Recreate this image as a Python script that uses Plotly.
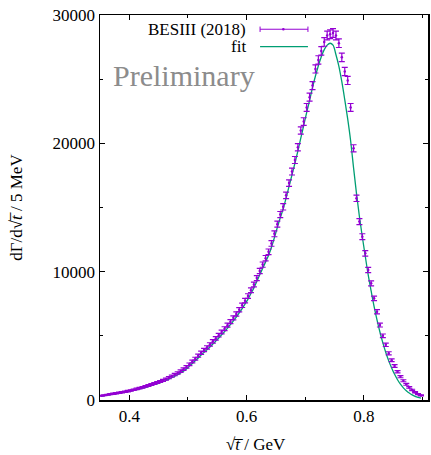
import plotly.graph_objects as go

# bin centres (GeV), 5 MeV bins
sqrt_t = [round(0.3525 + 0.005 * k, 4) for k in range(110)]

# BESIII (2018) data, events / 5 MeV
data_vals = [
    330, 370, 410, 450, 490, 530, 570, 610, 650, 690,
    740, 800, 860, 920, 990, 1060, 1130, 1200, 1280, 1360,
    1440, 1530, 1630, 1740, 1860, 1980, 2110, 2250, 2400, 2580,
    2780, 3000, 3220, 3450, 3680, 3900, 4100, 4330, 4570, 4800,
    5050, 5300, 5560, 5830, 6100, 6400, 6700, 7030, 7380, 7740,
    8100, 8550, 9000, 9500, 10050, 10550, 11050, 11550, 12200, 12950,
    13700, 14450, 15050, 15950, 16900, 17800, 18700, 19700, 21000, 21700,
    22800, 23600, 24500, 25800, 26500, 27200, 27900, 28400, 28500, 28600,
    28400, 27800, 26700, 25600, 24900, 22800, 19610, 15720, 13900, 12730,
    11430, 10130, 9090, 7920, 6880, 5840, 5000, 4300, 3640, 3100,
    2650, 2200, 1820, 1500, 1220, 980, 780, 600, 450, 360,
]

data_err = [
    36, 38, 40, 42, 44, 46, 48, 49, 51, 53,
    54, 57, 59, 61, 63, 65, 67, 69, 72, 74,
    76, 78, 81, 83, 86, 89, 92, 95, 98, 102,
    105, 110, 113, 117, 121, 125, 128, 132, 135, 139,
    142, 146, 149, 153, 156, 160, 164, 168, 172, 176,
    180, 185, 190, 195, 200, 205, 210, 215, 221, 228,
    234, 240, 245, 253, 260, 267, 273, 281, 290, 295,
    302, 307, 313, 321, 326, 330, 334, 337, 338, 338,
    337, 333, 327, 320, 316, 302, 280, 251, 236, 226,
    214, 201, 191, 178, 166, 153, 141, 131, 121, 111,
    103, 94, 85, 77, 70, 63, 56, 49, 42, 38,
]

# fit curve evaluated at the bin centres
fit_vals = [
    300, 340, 380, 420, 455, 495, 530, 570, 605, 645,
    690, 745, 800, 855, 920, 985, 1050, 1120, 1190, 1265,
    1340, 1425, 1520, 1620, 1735, 1850, 1975, 2110, 2250, 2420,
    2640, 2850, 3060, 3280, 3500, 3710, 3910, 4130, 4360, 4590,
    4830, 5080, 5330, 5600, 5870, 6160, 6460, 6780, 7120, 7480,
    7860, 8300, 8740, 9230, 9760, 10260, 10760, 11260, 11900, 12650,
    13450, 14200, 14900, 15750, 16650, 17550, 18450, 19400, 20400, 21400,
    22400, 23350, 24350, 25250, 26050, 26750, 27300, 27650, 27800, 27650,
    26900, 26000, 24800, 23400, 21900, 20200, 18100, 16100, 14300, 12700,
    11200, 9750, 8500, 7300, 6250, 5300, 4450, 3700, 3050, 2500,
    2000, 1580, 1230, 950, 720, 540, 400, 290, 210, 150,
]

x_ticks = [0.4, 0.6, 0.8]
y_ticks = [0, 10000, 20000, 30000]

DATA_C = "#9400D3"
FIT_C = "#009E73"
FONT = "Liberation Serif"

fig = go.Figure()
fig.add_trace(go.Scatter(
    x=sqrt_t, y=fit_vals, mode="lines", line=dict(color=FIT_C, width=1.3, shape="spline"),
    name="fit", showlegend=False, hoverinfo="skip"))
fig.add_trace(go.Scatter(
    x=sqrt_t, y=data_vals, mode="markers",
    marker=dict(color=DATA_C, size=2.5),
    error_y=dict(type="data", array=data_err, color=DATA_C, thickness=1.2, width=3),
    name="BESIII (2018)", showlegend=False))

axis_common = dict(
    showline=True, linecolor="black", linewidth=1.5, mirror="ticks",
    ticks="inside", ticklen=5, tickwidth=1, tickcolor="black",
    showgrid=False, zeroline=False,
    tickfont=dict(family=FONT, size=17, color="black"),
)

fig.update_xaxes(range=[0.35, 0.9095], tickvals=x_ticks, ticktext=["0.4", "0.6", "0.8"],
                 minor=dict(dtick=0.1, tick0=0.4, ticks="inside", ticklen=3, tickcolor="black"),
                 **axis_common)
fig.update_yaxes(range=[0, 30000], tickvals=y_ticks, ticktext=[str(v) for v in y_ticks],
                 minor=dict(dtick=5000, tick0=0, ticks="inside", ticklen=3, tickcolor="black"),
                 **axis_common)

# key (gnuplot style: text right aligned, sample to the right)
ky1, ky2 = 0.963, 0.918
kx0, kx1 = 0.488, 0.634
shapes = [
    dict(type="line", xref="paper", yref="paper", x0=kx0, x1=kx1, y0=ky1, y1=ky1,
         line=dict(color=DATA_C, width=1)),
    dict(type="line", xref="paper", yref="paper", x0=kx0, x1=kx0, y0=ky1 - 0.007, y1=ky1 + 0.007,
         line=dict(color=DATA_C, width=1)),
    dict(type="line", xref="paper", yref="paper", x0=kx1, x1=kx1, y0=ky1 - 0.007, y1=ky1 + 0.007,
         line=dict(color=DATA_C, width=1)),
    dict(type="line", xref="paper", yref="paper", x0=kx0, x1=kx1, y0=ky2, y1=ky2,
         line=dict(color=FIT_C, width=1.3)),
    dict(type="circle", xref="paper", yref="paper", x0=0.555, x1=0.563,
         y0=ky1 - 0.0035, y1=ky1 + 0.0035, fillcolor=DATA_C, line=dict(width=0)),
]
annotations = [
    dict(text="BESIII (2018)", xref="paper", yref="paper", x=0.452, y=ky1, xanchor="right",
         yanchor="middle", showarrow=False, font=dict(family=FONT, size=17, color="black")),
    dict(text="fit", xref="paper", yref="paper", x=0.452, y=ky2, xanchor="right",
         yanchor="middle", showarrow=False, font=dict(family=FONT, size=17, color="black")),
    dict(text="Preliminary", xref="paper", yref="paper", x=0.035, y=0.844, xanchor="left",
         yanchor="middle", showarrow=False, font=dict(family=FONT, size=30, color="#8c8c8c")),
    dict(text="\u221A<i>t\u0305</i> / GeV", xref="paper", yref="paper", x=0.476, y=-0.085,
         xanchor="center", yanchor="top", showarrow=False,
         font=dict(family=FONT, size=17, color="black")),
    dict(text="d\u0393/d\u221A<i>t\u0305</i> / 5 MeV", xref="paper", yref="paper", x=-0.255, y=0.5,
         xanchor="center", yanchor="middle", textangle=-90, showarrow=False,
         font=dict(family=FONT, size=17, color="black")),
]
fig.update_layout(
    width=431, height=455, margin=dict(l=100, r=1, t=15, b=55),
    paper_bgcolor="white", plot_bgcolor="white", showlegend=False,
    shapes=shapes, annotations=annotations,
)

fig.write_html("out.html", config={"displayModeBar": False, "staticPlot": True},
               post_script="document.body.style.margin='0';document.body.style.overflow='hidden';")
